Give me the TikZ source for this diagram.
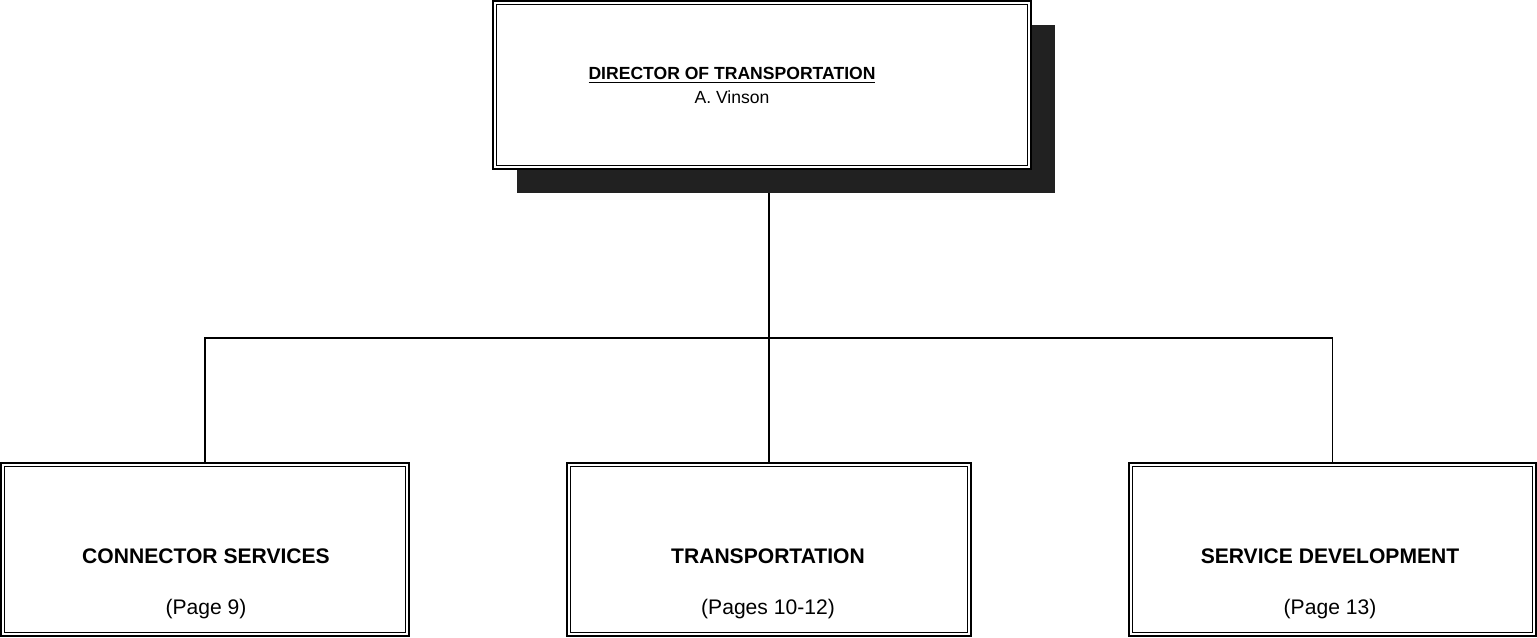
\documentclass[tikz,border=0pt]{standalone}
\usepackage{fontspec}
\setmainfont{Liberation Sans}
\usetikzlibrary{calc}
\tikzset{
	orgbox/.style={draw, line width=1.1pt, fill=white, inner sep=0pt},
	orginner/.style={draw, line width=0.6pt},
	orgshadow/.style={fill=black!87},
	orgline/.style={draw, line width=0.75pt},
	toptext/.style={font=\fontsize{10}{12}\selectfont, inner sep=0pt},
	bottext/.style={font=\fontsize{12}{14}\selectfont, inner sep=0pt}
}

\begin{document}
\begin{tikzpicture}[x=0.02cm, y=-0.02cm]
		%%%%% START %%%%%
		\useasboundingbox (0, 0) rectangle (1537, 637);
		
		\coordinate (bus) at (768, 338);
		
		\node[orgbox, minimum width=8.16cm, minimum height=3.46cm] (conn) at (205, 549.5) {};
		\node[orgbox, minimum width=8.08cm, minimum height=3.46cm] (trans) at (769, 549.5) {};
		\node[orgbox, minimum width=8.14cm, minimum height=3.46cm] (svc) at (1332.5, 549.5) {};
		
		\draw[orgline] (conn.north) |- (bus) -| (svc.north);
		\draw[orgline] (trans.north) -- (trans.north |- 0, 85);
		
		\node[minimum width=10.76cm, minimum height=3.36cm, inner sep=0pt] (director) at (762, 85) {};
		\fill[orgshadow] ($(director.south west)+(24, 24)$) rectangle ($(director.north east)+(24, 24)$);
		\node[orgbox, minimum width=10.76cm, minimum height=3.36cm] (director) at (762, 85) {};
		
		\foreach \n in {director, conn, trans, svc}
			\draw[orginner] ($(\n.south west)+(4, -4)$) rectangle ($(\n.north east)+(-4, 4)$);
		
		\node[toptext] (dirtitle) at (732, 75) {\underline{\textbf{DIRECTOR OF TRANSPORTATION}}};
		\node[toptext] (dirname) at (732, 97) {A. Vinson};
		
		\node[bottext] (conntitle) at (206, 556) {\textbf{CONNECTOR SERVICES}};
		\node[bottext] (connpage) at (206, 609) {(Page 9)};
		\node[bottext] (transtitle) at (768, 556) {\textbf{TRANSPORTATION}};
		\node[bottext] (transpage) at (768, 609) {(Pages 10-12)};
		\node[bottext] (svctitle) at (1330, 556) {\textbf{SERVICE DEVELOPMENT}};
		\node[bottext] (svcpage) at (1330, 609) {(Page 13)};
		%%%%% END %%%%%
	\end{tikzpicture}
\end{document}
